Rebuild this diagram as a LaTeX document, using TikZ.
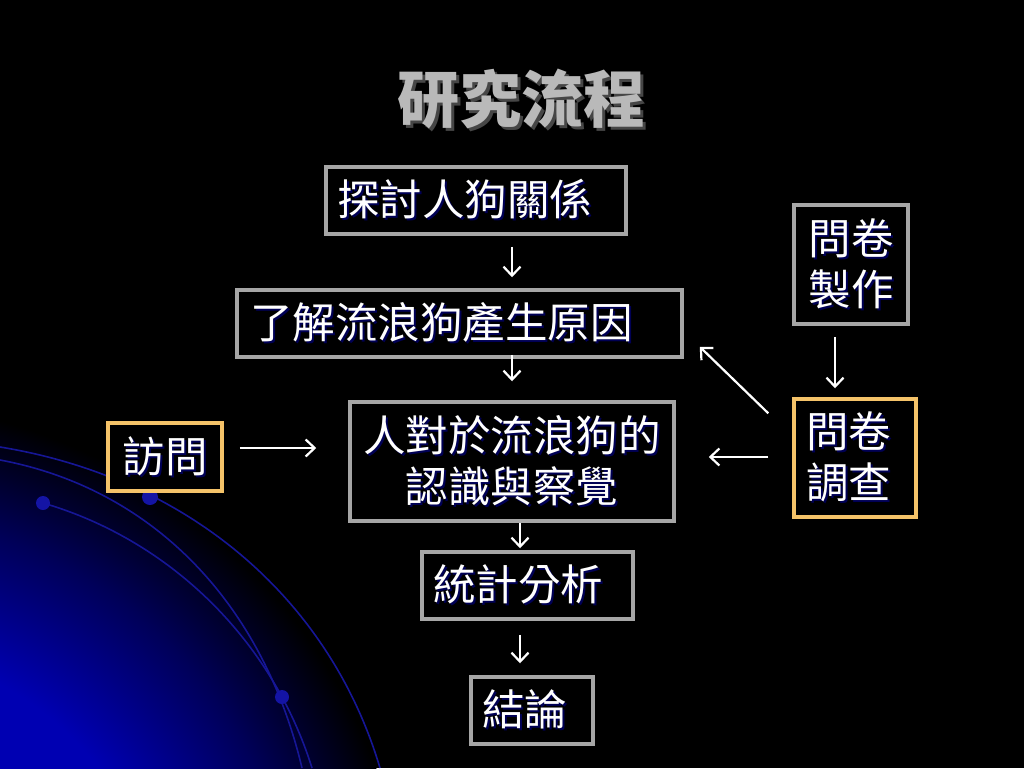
\documentclass[tikz,border=0pt]{standalone}
\usepackage{fontspec}
\newfontfamily\cjk{Noto Sans CJK TC}
\usetikzlibrary{arrows.meta,calc}
\definecolor{glowc}{RGB}{0,0,178}
\definecolor{arcc}{RGB}{22,22,150}
\definecolor{dotc}{RGB}{20,20,165}
\definecolor{boxgray}{RGB}{166,166,166}
\definecolor{boxorange}{RGB}{245,195,105}
\definecolor{txtshadow}{RGB}{0,0,85}
\definecolor{titlegray}{RGB}{185,185,185}
\definecolor{titleshadow}{RGB}{70,70,70}
\pgfdeclareradialshading{myglow}{\pgfpoint{0bp}{0bp}}{color(0bp)=(glowc); color(14bp)=(glowc); color(20bp)=(glowc!50!black); color(25bp)=(black); color(50bp)=(black)}
\newcommand\shd[1]{\leavevmode\rlap{\kern2pt\raisebox{-2pt}{\textcolor{txtshadow}{#1}}}#1}
\newcommand\tshd[1]{\leavevmode\rlap{\kern3pt\raisebox{-3pt}{\textcolor{titleshadow}{#1}}}#1}
\tikzset{
  boxbase/.style={draw, line width=3.5pt, fill=black, text=white, inner sep=0pt,
    font=\cjk\fontsize{42.5}{51}\selectfont},
  graybox/.style={boxbase, draw=boxgray},
  orangebox/.style={boxbase, draw=boxorange},
  arr/.style={draw=white, line width=2.2pt, -{Straight Barb[length=9pt,width=17pt,line width=2.2pt]}},
  arcline/.style={draw=arcc, line width=1.6pt},
}
\begin{document}
\begin{tikzpicture}[x=1pt,y=-1pt]
\useasboundingbox (0,0) rectangle (1024,768);
\fill[black] (0,0) rectangle (1024,768);
\begin{scope}
  \clip (0,0) rectangle (1024,768);
  \shade[shading=myglow] (-150,960) circle (560pt);
  \draw[arcline] (0,447) .. controls (190,478) and (330,600) .. (380,768);
  \draw[arcline] (0,460) .. controls (150,488) and (262,600) .. (302,768);
  \draw[arcline] (43,503) .. controls (170,540) and (272,640) .. (312,768);
  \fill[dotc] (43,503) circle (7pt);
  \fill[dotc] (150,497) circle (8pt);
  \fill[dotc] (282,697) circle (7pt);
\end{scope}
% title
\node[text=titlegray, font=\cjk\bfseries\fontsize{62}{72}\selectfont] (title) at (521,100) {\tshd{研究流程}};
% boxes
\node[graybox, minimum width=300pt, minimum height=67pt, text width=278pt, align=left] (b1) at (476,200.5) {\shd{探討人狗關係}};
\node[graybox, minimum width=445pt, minimum height=67pt, text width=419pt, align=left] (b2) at (459.5,323.5) {\shd{了解流浪狗產生原因}};
\node[graybox, minimum width=324pt, minimum height=119pt, text width=310pt, align=center] (b3) at (512,461.5) {\shd{人對於流浪狗的}\\\shd{認識與察覺}};
\node[graybox, minimum width=211pt, minimum height=67pt, text width=189pt, align=left] (b4) at (527.5,585.5) {\shd{統計分析}};
\node[graybox, minimum width=122pt, minimum height=67pt, text width=100pt, align=left] (b5) at (532,710.5) {\shd{結論}};
\node[orangebox, minimum width=114pt, minimum height=68pt, text width=90pt, align=center] (o1) at (165,457) {\shd{訪問}};
\node[graybox, minimum width=114pt, minimum height=119pt, text width=90pt, align=center] (b6) at (851,264.5) {\shd{問卷}\\\shd{製作}};
\node[orangebox, minimum width=122pt, minimum height=118pt, text width=98pt, align=left] (o2) at (855,458) {\shd{問卷}\\\shd{調查}};
% helper coordinates for vertical arrow columns
\coordinate (c1) at (512,0);
\coordinate (c2) at (520,0);
\coordinate (c3) at (835,0);
\coordinate (r1) at (0,448);
\coordinate (r2) at (0,457);
% arrows
\draw[arr, shorten <=11pt, shorten >=11pt] (b1.south -| c1) -- (b2.north -| c1);
\draw[arr, shorten <=-4pt, shorten >=19pt] (b2.south -| c1) -- (b3.north -| c1);
\draw[arr, shorten <=0pt, shorten >=2pt] (b3.south -| c2) -- (b4.north -| c2);
\draw[arr, shorten <=14pt, shorten >=12pt] (b4.south -| c2) -- (b5.north -| c2);
\draw[arr, shorten <=16pt, shorten >=32pt] (o1.east |- r1) -- (b3.west |- r1);
\draw[arr, shorten <=11pt, shorten >=9pt] (b6.south -| c3) -- (o2.north -| c3);
\draw[arr, shorten <=24pt, shorten >=33pt] (o2.west |- r2) -- (b3.east |- r2);
\draw[arr] ($(o2.north west)+(-24,16)$) -- ($(b2.south east)+(16,-12)$);
\end{tikzpicture}
\end{document}
